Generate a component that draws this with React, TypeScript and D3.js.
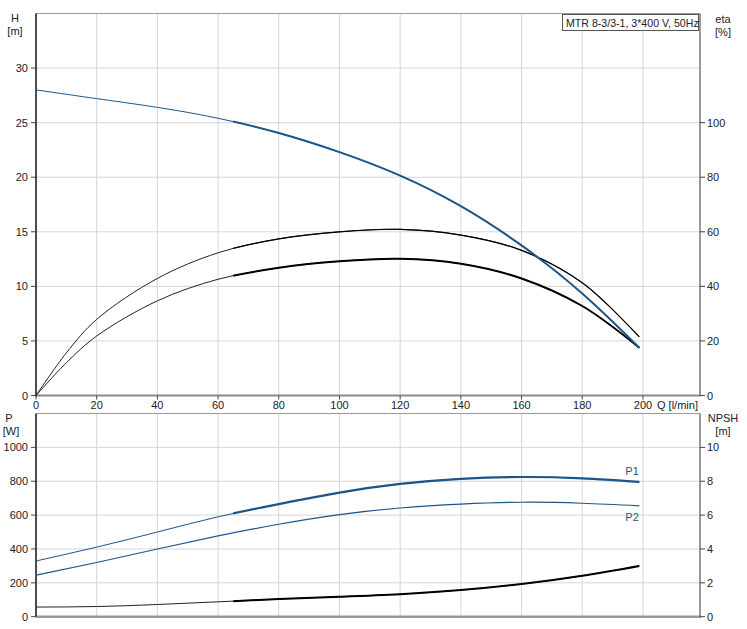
import React from "react";
import * as d3 from "d3";

const qTop = [0, 10, 20, 40, 60, 80, 100, 120, 140, 160, 180, 198.8];
const headH = [28.0, 27.6, 27.2, 26.4, 25.4, 24.05, 22.3, 20.15, 17.35, 13.75, 9.35, 4.38];
const etaPump = [0, 15.6, 27.9, 42.9, 52.3, 57.4, 60.0, 60.9, 58.8, 53.2, 41.3, 21.5];
const etaTotal = [0, 12.0, 21.8, 34.7, 42.6, 46.8, 49.2, 50.1, 48.3, 42.9, 32.8, 17.5];

const qBot = [0, 20, 40, 60, 80, 100, 120, 140, 160, 180, 198.8];
const powerP1 = [329, 411, 500, 590, 665, 733, 784, 814, 825, 817, 796];
const powerP2 = [245, 320, 400, 477, 546, 603, 642, 665, 676, 670, 655];
const npsh = [0.57, 0.6, 0.72, 0.88, 1.04, 1.18, 1.33, 1.57, 1.93, 2.42, 3.0];

const qTicks = [0, 20, 40, 60, 80, 100, 120, 140, 160, 180, 200];
const hTicks = [0, 5, 10, 15, 20, 25, 30];
const etaTicks = [0, 20, 40, 60, 80, 100];
const pTicks = [0, 200, 400, 600, 800, 1000];
const npshTicks = [0, 2, 4, 6, 8, 10];

const title = "MTR 8-3/3-1, 3*400 V, 50Hz";
const thickFrom = 65;

const BLUE = "#1d5587";
const GRID = "#d6d6d6";
const FONT = "'Liberation Sans', Arial, sans-serif";

export default function App() {
  const x = d3.scaleLinear().domain([0, 218.8]).range([36, 700]);
  const yH = d3.scaleLinear().domain([0, 35]).range([395.5, 13.5]);
  const yEta = d3.scaleLinear().domain([0, 140]).range([395.5, 13.5]);
  const yP = d3.scaleLinear().domain([0, 1200]).range([616.7, 413.5]);
  const yN = d3.scaleLinear().domain([0, 12]).range([616.7, 413.5]);

  const mk = (
    qs: number[],
    vs: number[],
    ys: d3.ScaleLinear<number, number>,
    curve: d3.CurveFactory = d3.curveNatural
  ) =>
    d3
      .line<number>()
      .x((_, i) => x(qs[i]))
      .y((v) => ys(v))
      .curve(curve)(vs) as string;

  const cr = d3.curveCatmullRom.alpha(0.5);
  const hPath = mk(qTop, headH, yH);
  const e1Path = mk(qTop, etaPump, yEta, cr);
  const e2Path = mk(qTop, etaTotal, yEta, cr);
  const p1Path = mk(qBot, powerP1, yP);
  const p2Path = mk(qBot, powerP2, yP);
  const nPath = mk(qBot, npsh, yN);

  const xL = x.range()[0];
  const xR = x.range()[1];
  const txt = { fontFamily: FONT, fontSize: 11, fill: "#222" } as const;

  return (
    <svg
      width={747}
      height={629}
      style={{ position: "absolute", left: 0, top: 0, background: "#fff" }}
    >
      <defs>
        <clipPath id="thick">
          <rect x={x(thickFrom)} y={0} width={747} height={629} />
        </clipPath>
      </defs>
      <rect x={0} y={0} width={747} height={629} fill="#fff" />

      {qTicks.slice(1).map((q) => (
        <line key={"gvt" + q} x1={x(q)} x2={x(q)} y1={yH(35)} y2={yH(0)} stroke={GRID} />
      ))}
      {hTicks.slice(1).map((h) => (
        <line key={"ght" + h} x1={xL} x2={xR} y1={yH(h)} y2={yH(h)} stroke={GRID} />
      ))}
      {qTicks.slice(1).map((q) => (
        <line key={"gvb" + q} x1={x(q)} x2={x(q)} y1={yP(1200)} y2={yP(0)} stroke={GRID} />
      ))}
      {pTicks.slice(1).map((p) => (
        <line key={"ghb" + p} x1={xL} x2={xR} y1={yP(p)} y2={yP(p)} stroke={GRID} />
      ))}

      <line x1={xL} x2={xR} y1={yH(35)} y2={yH(35)} stroke="#9a9a9a" />
      <line x1={xL} x2={xR + 1} y1={yH(0)} y2={yH(0)} stroke="#8a8a8a" strokeWidth={2} />
      <line x1={xR} x2={xR} y1={yH(35)} y2={yH(0)} stroke="#777" strokeWidth={1.5} />
      <line x1={xL} x2={xL} y1={yH(35)} y2={yH(0) + 1} stroke="#111" strokeWidth={1.5} />
      <line x1={xL} x2={xR} y1={yP(1200)} y2={yP(1200)} stroke="#9a9a9a" />
      <line x1={xL} x2={xR + 1} y1={yP(0)} y2={yP(0)} stroke="#999" strokeWidth={2.5} />
      <line x1={xR} x2={xR} y1={yP(1200)} y2={yP(0)} stroke="#777" strokeWidth={1.5} />
      <line x1={xL} x2={xL} y1={yP(1200)} y2={yP(0)} stroke="#111" strokeWidth={1.5} />

      {hTicks.map((h) => (
        <g key={"th" + h}>
          <line x1={xL - 5} x2={xL} y1={yH(h)} y2={yH(h)} stroke="#444" />
          <text {...txt} x={xL - 8} y={yH(h) + 4} textAnchor="end">
            {h}
          </text>
        </g>
      ))}
      <text {...txt} x={15} y={22} textAnchor="middle">H</text>
      <text {...txt} x={15} y={35} textAnchor="middle">[m]</text>

      {etaTicks.map((e) => (
        <g key={"te" + e}>
          <line x1={xR} x2={xR + 5} y1={yEta(e)} y2={yEta(e)} stroke="#444" />
          <text {...txt} x={xR + 7} y={yEta(e) + 4}>
            {e}
          </text>
        </g>
      ))}
      <text {...txt} x={723} y={23} textAnchor="middle">eta</text>
      <text {...txt} x={723} y={36} textAnchor="middle">[%]</text>

      {qTicks.map((q) => (
        <g key={"tq" + q}>
          <line x1={x(q)} x2={x(q)} y1={yH(0)} y2={yH(0) + 4} stroke="#444" />
          <text {...txt} x={x(q)} y={409} textAnchor="middle">
            {q}
          </text>
        </g>
      ))}
      <text {...txt} x={657} y={409}>Q [l/min]</text>

      {pTicks.map((p) => (
        <g key={"tp" + p}>
          <line x1={xL - 5} x2={xL} y1={yP(p)} y2={yP(p)} stroke="#444" />
          <text {...txt} x={xL - 8} y={yP(p) + 4} textAnchor="end">
            {p}
          </text>
        </g>
      ))}
      <text {...txt} x={9} y={422} textAnchor="middle">P</text>
      <text {...txt} x={11} y={435} textAnchor="middle">[W]</text>

      {npshTicks.map((n) => (
        <g key={"tn" + n}>
          <line x1={xR} x2={xR + 5} y1={yN(n)} y2={yN(n)} stroke="#444" />
          <text {...txt} x={xR + 7} y={yN(n) + 4}>
            {n}
          </text>
        </g>
      ))}
      <text {...txt} x={723} y={422} textAnchor="middle">NPSH</text>
      <text {...txt} x={723} y={435} textAnchor="middle">[m]</text>

      <rect x={562.5} y={14.5} width={136} height={16} fill="#fff" stroke="#555" />
      <text {...txt} fontSize={10.6} x={566} y={26.5}>{title}</text>

      <path d={e1Path} fill="none" stroke="#222" strokeWidth={1} />
      <path d={e2Path} fill="none" stroke="#222" strokeWidth={1} />
      <path d={e2Path} fill="none" stroke="#000" strokeWidth={2} clipPath="url(#thick)" />
      <path d={e1Path} fill="none" stroke="#000" strokeWidth={1.2} clipPath="url(#thick)" />
      <path d={hPath} fill="none" stroke={BLUE} strokeWidth={1} />
      <path d={hPath} fill="none" stroke={BLUE} strokeWidth={2} clipPath="url(#thick)" />

      <path d={p2Path} fill="none" stroke={BLUE} strokeWidth={1.2} />
      <path d={p1Path} fill="none" stroke={BLUE} strokeWidth={1} />
      <path d={p1Path} fill="none" stroke={BLUE} strokeWidth={2.2} clipPath="url(#thick)" />
      <path d={nPath} fill="none" stroke="#222" strokeWidth={1} />
      <path d={nPath} fill="none" stroke="#000" strokeWidth={2} clipPath="url(#thick)" />

      <text {...txt} fill={BLUE} x={x(198.8) - 14} y={yP(powerP1[powerP1.length - 1]) - 7}>P1</text>
      <text {...txt} fill={BLUE} x={x(198.8) - 14} y={yP(powerP2[powerP2.length - 1]) + 15}>P2</text>
    </svg>
  );
}
